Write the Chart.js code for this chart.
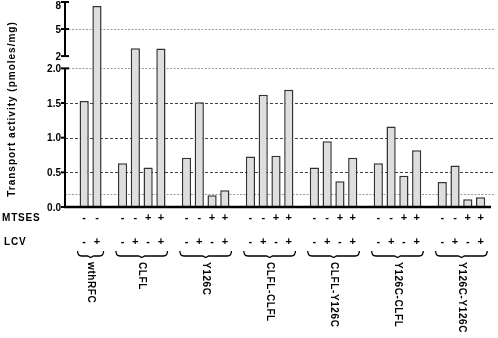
<!DOCTYPE html>
<html>
<head>
<meta charset="utf-8">
<script src="https://cdn.jsdelivr.net/npm/chart.js@4.4.1/dist/chart.umd.min.js"></script>
<style>
  html, body { margin: 0; padding: 0; background: #fff; }
</style>
</head>
<body>
<canvas id="transportChart" width="498" height="338"></canvas>
<script>
const groups = ['wthRFC', 'CLFL', 'Y126C', 'CLFL-CLFL', 'CLFL-Y126C', 'Y126C-CLFL', 'Y126C-Y126C'];

const wthRFC = [1.53, 7.55];
const clfl = [0.63, 2.86, 0.57, 2.85];
const y126c = [0.71, 1.51, 0.17, 0.24];
const clflClfl = [0.73, 1.62, 0.74, 1.69];
const clflY126c = [0.57, 0.95, 0.37, 0.71];
const y126cClfl = [0.63, 1.16, 0.45, 0.82];
const y126cY126c = [0.36, 0.60, 0.11, 0.14];
const groupValues = [wthRFC, clfl, y126c, clflClfl, clflY126c, y126cClfl, y126cY126c];

const mtsesSigns = [
    ['-', '-'],
    ['-', '-', '+', '+'],
    ['-', '-', '+', '+'],
    ['-', '-', '+', '+'],
    ['-', '-', '+', '+'],
    ['-', '-', '+', '+'],
    ['-', '-', '+', '+']
];
const lcvSigns = [
    ['-', '+'],
    ['-', '+', '-', '+'],
    ['-', '+', '-', '+'],
    ['-', '+', '-', '+'],
    ['-', '+', '-', '+'],
    ['-', '+', '-', '+'],
    ['-', '+', '-', '+']
];

const lowerTicks = [0, 0.5, 1.0, 1.5, 2.0];
const lowerTickLabels = ['0.0', '0.5', '1.0', '1.5', '2.0'];
const upperTicks = [2, 5, 8];
const upperTickLabels = ['2', '5', '8'];
const backgroundLevel = 0.19; // faint dotted reference line near the bottom

const yTitle = 'Transport activity (pmoles/mg)';
const rowTitles = ['MTSES', 'LCV'];

// broken y axis: 0-2 drawn full size, then a gap, then 2-8 squeezed
const BREAK = 2;
const GAP = 0.177;
const UPPER_SCALE = 0.13;
function toAxis(v, upper) {
    if (v < BREAK || (v === BREAK && !upper)) return v;
    return BREAK + GAP + (v - BREAK) * UPPER_SCALE;
}

// one slot per bar, a blank slot at the start and between groups
const slotLabels = [''];
const slotValues = [null];
const slotInfo = [null];
groups.forEach((g, gi) => {
    if (gi > 0) {
        slotLabels.push('');
        slotValues.push(null);
        slotInfo.push(null);
    }
    groupValues[gi].forEach((v, bi) => {
        slotLabels.push(g);
        slotValues.push(toAxis(v));
        slotInfo.push({ group: gi, bar: bi });
    });
});

const FONT = '"Liberation Sans", Arial, sans-serif';

function dashedLine(ctx, x1, x2, y, color, dash) {
    ctx.save();
    ctx.strokeStyle = color;
    ctx.lineWidth = 1;
    ctx.setLineDash(dash);
    ctx.beginPath();
    ctx.moveTo(x1, y);
    ctx.lineTo(x2, y);
    ctx.stroke();
    ctx.restore();
}

const brokenAxisPlugin = {
    id: 'brokenAxis',
    beforeDatasetsDraw(chart) {
        const { ctx, chartArea, scales: { y } } = chart;
        const x1 = chartArea.left;
        const x2 = chartArea.right + 7;
        const dark = '#444';
        const light = '#9a9a9a';
        dashedLine(ctx, x1, x2, Math.round(y.getPixelForValue(backgroundLevel)) + 0.5, light, [2, 1.5]);
        lowerTicks.forEach(t => {
            if (t === 0) return;
            const isTop = t === BREAK;
            dashedLine(ctx, x1, x2, Math.round(y.getPixelForValue(toAxis(t))) + 0.5, isTop ? light : dark, isTop ? [2, 1.5] : [3, 2]);
        });
        upperTicks.forEach((t, i) => {
            if (i === 0 || i === upperTicks.length - 1) return;
            dashedLine(ctx, x1, x2, Math.round(y.getPixelForValue(toAxis(t, true))) + 0.5, light, [2, 1.5]);
        });
    },
    afterDatasetsDraw(chart) {
        const { ctx, chartArea, scales: { x, y } } = chart;
        const axisX = chartArea.left;
        ctx.save();
        ctx.strokeStyle = '#000';
        ctx.fillStyle = '#000';

        // x baseline
        ctx.lineWidth = 2.5;
        ctx.beginPath();
        ctx.moveTo(axisX - 1, chartArea.bottom);
        ctx.lineTo(chartArea.right + 4, chartArea.bottom);
        ctx.stroke();

        // y axis in two pieces
        ctx.lineWidth = 2;
        const segs = [
            [y.getPixelForValue(toAxis(lowerTicks[0])), y.getPixelForValue(toAxis(lowerTicks[lowerTicks.length - 1]))],
            [y.getPixelForValue(toAxis(upperTicks[0], true)), y.getPixelForValue(toAxis(upperTicks[upperTicks.length - 1], true))]
        ];
        segs.forEach(([b, t]) => {
            ctx.beginPath();
            ctx.moveTo(axisX, b);
            ctx.lineTo(axisX, t);
            ctx.stroke();
        });

        ctx.font = `bold 10px ${FONT}`;
        ctx.textAlign = 'right';
        ctx.textBaseline = 'middle';
        const drawTick = (val, label, cap) => {
            const py = y.getPixelForValue(val);
            ctx.beginPath();
            ctx.moveTo(axisX - 4, py);
            ctx.lineTo(axisX + (cap ? 4 : 0), py);
            ctx.stroke();
            ctx.fillText(label, axisX - 4, Math.max(py + 1, 6));
        };
        lowerTicks.forEach((t, i) => drawTick(toAxis(t), lowerTickLabels[i], t === BREAK));
        upperTicks.forEach((t, i) => drawTick(toAxis(t, true), upperTickLabels[i], true));

        // y title
        ctx.save();
        ctx.translate(12, 109);
        ctx.rotate(-Math.PI / 2);
        ctx.textAlign = 'center';
        ctx.letterSpacing = '1px';
        ctx.fillText(yTitle, 0, 0);
        ctx.restore();

        // sign rows
        const rowY = [218, 242];
        ctx.save();
        ctx.textAlign = 'left';
        ctx.letterSpacing = '0.8px';
        ctx.fillText(rowTitles[0], 2, rowY[0]);
        ctx.fillText(rowTitles[1], 4, rowY[1]);
        ctx.restore();

        ctx.font = `bold 11px ${FONT}`;
        ctx.textAlign = 'center';
        slotInfo.forEach((info, i) => {
            if (!info) return;
            const px = x.getPixelForValue(i);
            ctx.fillText(mtsesSigns[info.group][info.bar], px, rowY[0]);
            ctx.fillText(lcvSigns[info.group][info.bar], px, rowY[1]);
        });

        // braces and group names
        const meta = chart.getDatasetMeta(0);
        ctx.lineWidth = 1.3;
        groups.forEach((g, gi) => {
            const idx = slotInfo.map((s, i) => (s && s.group === gi ? i : -1)).filter(i => i >= 0);
            const first = meta.data[idx[0]];
            const last = meta.data[idx[idx.length - 1]];
            const left = first.x - first.width / 2 - 2;
            const right = last.x + last.width / 2 + 2;
            const mid = (left + right) / 2;
            ctx.beginPath();
            ctx.moveTo(left, 251);
            ctx.quadraticCurveTo(left, 256, left + 4, 256);
            ctx.lineTo(mid - 3, 256);
            ctx.lineTo(mid, 257.5);
            ctx.lineTo(mid + 3, 256);
            ctx.lineTo(right - 4, 256);
            ctx.quadraticCurveTo(right, 256, right, 251);
            ctx.stroke();

            ctx.save();
            ctx.translate(mid, 262);
            ctx.rotate(Math.PI / 2);
            ctx.font = `bold 10px ${FONT}`;
            ctx.letterSpacing = '0.6px';
            ctx.textAlign = 'left';
            ctx.textBaseline = 'middle';
            ctx.fillText(g, 0, 0);
            ctx.restore();
        });
        ctx.restore();
    }
};

let transportChart = null;

function setupChart() {
    const ctx = document.getElementById('transportChart').getContext('2d');
    transportChart = new Chart(ctx, {
        type: 'bar',
        data: {
            labels: slotLabels,
            datasets: [{
                data: slotValues,
                backgroundColor: '#dedede',
                borderColor: '#333',
                borderWidth: 1.5,
                barPercentage: 0.72,
                categoryPercentage: 1
            }]
        },
        options: {
            responsive: false,
            animation: false,
            devicePixelRatio: 1,
            layout: {
                padding: { left: 65, right: 11, top: 2, bottom: 131 }
            },
            plugins: {
                legend: { display: false },
                tooltip: { enabled: false }
            },
            scales: {
                x: { display: false },
                y: {
                    display: false,
                    min: 0,
                    max: toAxis(upperTicks[upperTicks.length - 1], true)
                }
            }
        },
        plugins: [brokenAxisPlugin]
    });
}

setupChart();
</script>
</body>
</html>
